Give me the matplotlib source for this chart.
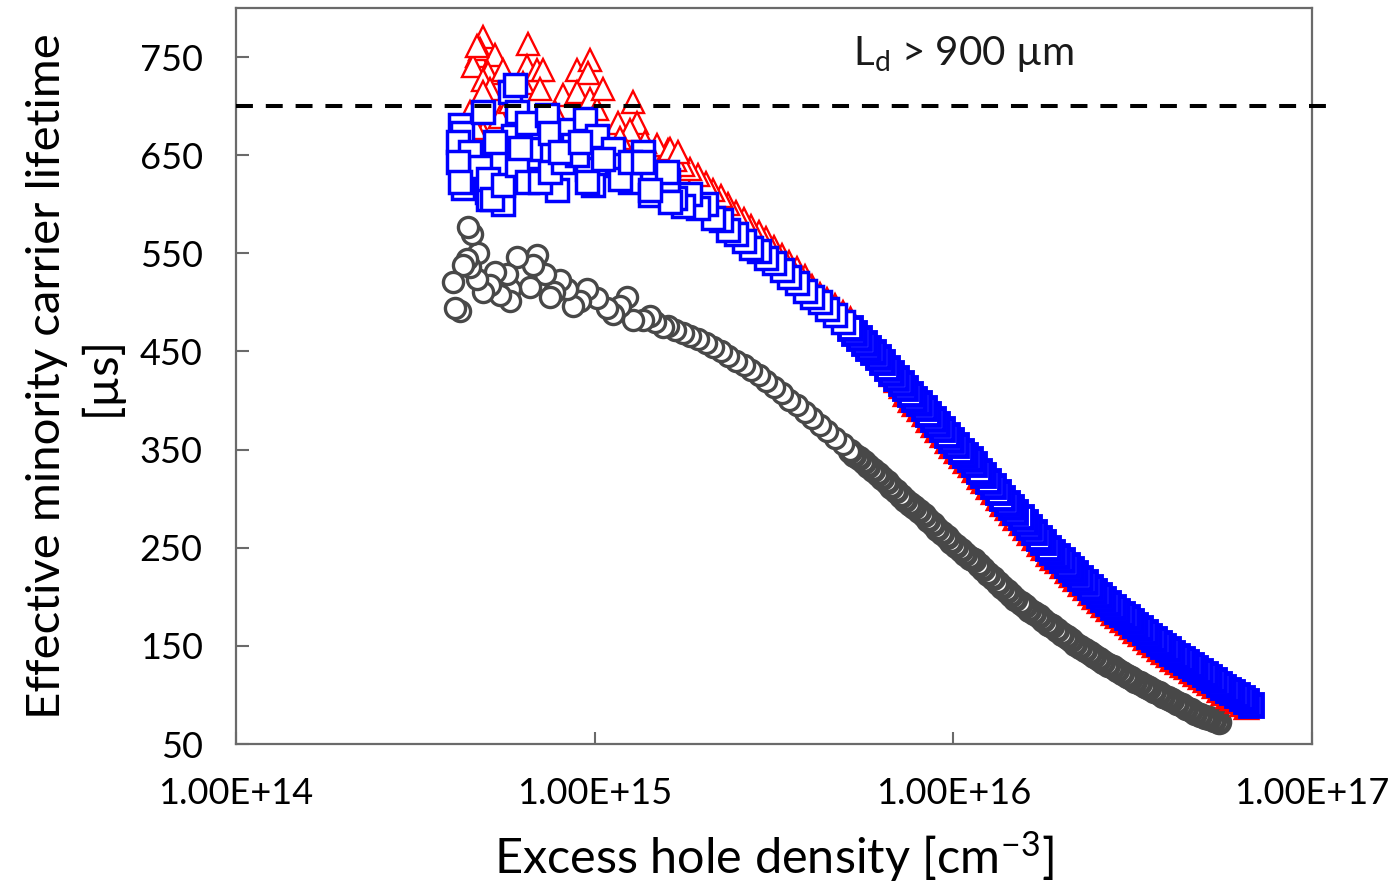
import matplotlib

matplotlib.use("Agg")
import matplotlib.pyplot as plt

plt.rcParams["font.family"] = ["Lato", "DejaVu Sans"]
plt.rcParams["mathtext.fontset"] = "custom"
plt.rcParams["mathtext.rm"] = "Lato"
plt.rcParams["mathtext.it"] = "Lato:italic"

# density grid of the smooth (high injection) part, cm^-3
n_grid = [
    1.60e15, 1.68e15, 1.76e15, 1.85e15, 1.94e15, 2.04e15, 2.14e15, 2.25e15,
    2.36e15, 2.48e15, 2.60e15, 2.73e15, 2.87e15, 3.01e15, 3.16e15, 3.32e15,
    3.49e15, 3.66e15, 3.85e15, 4.04e15, 4.24e15, 4.45e15, 4.67e15, 4.91e15,
    5.15e15, 5.30e15, 5.46e15, 5.63e15, 5.80e15, 5.97e15, 6.15e15, 6.33e15,
    6.52e15, 6.72e15, 6.92e15, 7.13e15, 7.34e15, 7.56e15, 7.79e15, 8.02e15,
    8.26e15, 8.51e15, 8.77e15, 9.03e15, 9.30e15, 9.58e15, 9.87e15,
    1.02e16, 1.05e16, 1.08e16, 1.11e16, 1.14e16, 1.18e16, 1.21e16, 1.25e16,
    1.29e16, 1.33e16, 1.37e16, 1.41e16, 1.45e16, 1.49e16, 1.54e16, 1.58e16,
    1.63e16, 1.68e16, 1.73e16, 1.78e16, 1.84e16, 1.89e16, 1.95e16, 2.01e16,
    2.07e16, 2.13e16, 2.19e16, 2.26e16, 2.33e16, 2.40e16, 2.47e16, 2.54e16,
    2.62e16, 2.70e16, 2.78e16, 2.86e16, 2.95e16, 3.04e16, 3.13e16, 3.22e16,
    3.32e16, 3.42e16, 3.52e16, 3.63e16, 3.74e16, 3.85e16, 3.96e16, 4.08e16,
    4.21e16, 4.33e16, 4.46e16, 4.60e16, 4.73e16, 4.88e16, 5.02e16, 5.17e16,
    5.33e16, 5.49e16, 5.65e16, 5.82e16, 6.00e16, 6.18e16, 6.36e16, 6.55e16,
    6.75e16,
]
N_SPARSE = 24  # first grid points, below ~5e15, where markers stay apart

# grey circles
gray_tau = [
    476, 472, 469, 466, 463, 459, 455, 450, 445, 440, 436, 431, 426, 420, 414,
    408, 401, 395, 388, 382, 375, 369, 362, 356,
    349, 345, 341, 337, 333, 329, 325, 321, 317, 312, 308, 303, 299, 295, 291,
    287, 283, 278, 274, 269, 265, 261, 256,
    252, 248, 244, 240, 237, 232, 228, 223, 219, 214, 210, 206, 202, 198, 194,
    191, 187, 183, 180, 176, 172, 170, 166, 162, 159, 156, 152, 149, 146, 143,
    140, 137, 134, 131, 128, 125, 122, 119, 117, 114, 112, 109, 107, 104, 102,
    99, 97, 95, 92, 90, 87, 85, 82, 80, 78, 76, 74, 72,
]
gray_noise_n = [
    4.03e14, 4.08e14, 4.21e14, 4.29e14, 4.40e14, 4.43e14, 4.49e14, 4.55e14,
    4.70e14, 4.73e14, 4.88e14, 5.11e14, 5.27e14, 5.45e14, 5.70e14, 5.81e14,
    5.81e14, 6.07e14, 6.60e14, 6.73e14, 6.90e14, 7.27e14, 7.50e14, 7.70e14,
    8.00e14, 8.37e14, 8.70e14, 9.10e14, 9.52e14, 1.015e15, 1.08e15, 1.125e15,
    1.18e15, 1.23e15, 1.28e15, 1.36e15, 1.43e15, 1.47e15, 1.55e15,
]
gray_noise_tau = [
    521, 494, 491, 538, 544, 577, 536, 570,
    524, 550, 511, 518, 531, 508, 529, 501,
    514, 546, 516, 538, 548, 529, 506, 511,
    523, 514, 496, 501, 514, 504, 494, 488,
    496, 506, 482, 482, 486, 480, 475,
]

# blue squares
blue_tau = [
    625, 606, 598, 610, 596, 600, 586, 584, 574, 570, 563, 555, 552, 545, 540,
    533, 526, 520, 512, 506, 500, 493, 487, 480,
    474, 469, 464, 459, 454, 449, 444, 439, 433, 428, 423, 418, 413, 407, 402,
    397, 392, 386, 381, 376, 371, 365, 360,
    355, 349, 344, 340, 335, 328, 324, 318, 313, 307, 301, 296, 291, 286, 281,
    276, 271, 266, 260, 256, 250, 246, 242, 237, 232, 228, 224, 219, 215, 210,
    206, 202, 198, 194, 190, 186, 182, 179, 175, 171, 168, 164, 160, 157, 153,
    150, 147, 143, 140, 137, 134, 130, 127, 124, 121, 118, 115, 111, 108, 105,
    103, 100, 97, 94, 90,
]
blue_noise_n = [
    4.21e14, 4.27e14, 4.29e14, 4.27e14, 4.29e14, 4.16e14, 4.49e14, 4.88e14,
    5.01e14, 5.04e14, 4.79e14, 5.55e14, 5.81e14, 5.99e14, 6.07e14, 5.92e14,
    6.48e14, 6.60e14, 7.04e14, 7.36e14, 7.50e14, 7.85e14, 8.53e14, 8.70e14,
    9.40e14, 9.52e14, 9.89e14, 1.015e15, 1.125e15, 1.153e15, 1.254e15,
    1.364e15, 1.426e15, 1.591e15, 1.622e15, 1.177e15, 4.16e14, 4.21e14,
    5.04e14, 5.17e14, 5.55e14, 6.07e14, 6.48e14, 7.04e14, 7.50e14, 8.16e14,
    9.52e14, 8.93e14, 1.254e15, 1.364e15, 1.426e15, 1.055e15, 5.27e14,
    6.19e14, 8.00e14, 9.10e14,
]
blue_noise_tau = [
    681, 673, 643, 630, 617, 663, 653, 694,
    612, 605, 638, 600, 714, 722, 694, 670,
    683, 656, 626, 691, 673, 615, 676, 660,
    687, 636, 620, 670, 656, 640, 623,
    653, 609, 633, 602, 626, 643, 623,
    626, 605, 620, 640, 623, 623, 633, 643,
    623, 650, 643, 643, 615, 646, 663,
    657, 653, 663,
]

# red triangles
red_tau = [
    655, 645, 640, 636, 630, 622, 615, 608, 600, 592, 585, 578, 572, 566, 556,
    548, 541, 535, 527, 517, 509, 503, 497, 490,
    483, 477, 470, 464, 458, 452, 446, 440, 433, 427, 421, 415, 407, 401, 396,
    391, 386, 380, 375, 370, 365, 359, 354,
    349, 343, 338, 334, 329, 322, 318, 312, 307, 301, 295, 290, 285, 280, 275,
    270, 265, 260, 254, 250, 244, 240, 236, 231, 226, 222, 218, 213, 209, 204,
    200, 196, 192, 188, 184, 180, 176, 173, 169, 165, 162, 158, 154, 151, 147,
    144, 141, 137, 134, 131, 128, 124, 121, 118, 115, 112, 109, 105, 102, 99,
    97, 94, 91, 88,
]
red_noise_n = [
    4.88e14, 4.70e14, 4.79e14, 5.27e14, 4.58e14, 5.04e14, 4.88e14, 5.55e14,
    5.11e14, 4.88e14, 6.52e14, 6.48e14, 6.91e14, 7.18e14, 6.31e14, 7.04e14,
    8.16e14, 8.93e14, 9.70e14, 9.58e14, 8.93e14, 9.70e14, 1.015e15, 1.055e15,
    1.161e15, 1.279e15, 1.312e15, 1.254e15, 1.492e15, 1.622e15, 1.707e15,
    4.88e14, 4.49e14, 4.64e14, 5.45e14, 5.81e14, 7.75e14, 1.177e15,
    1.381e15, 4.70e14,
]
red_noise_tau = [
    770, 751, 758, 752, 741, 734, 727, 737,
    717, 714, 763, 741, 737, 737, 724, 717,
    711, 737, 747, 734, 714, 707, 697, 717,
    683, 704, 683, 676, 660, 656, 653,
    673, 694, 678, 689, 704, 694, 668,
    663, 761,
]

LD_LIMIT = 700  # lifetime for L_d = 900 um


def scatter_series(ax, n_dense, t_dense, n_sparse, t_sparse, style, dense_mew):
    # dense high-injection tail first, then the sparse / noisy low end on top
    ax.plot(n_dense, t_dense, ls="none", **dict(style, mew=dense_mew))
    ax.plot(n_sparse, t_sparse, ls="none", **style)


def main():
    fig = plt.figure(figsize=(13.98, 8.91), dpi=100)
    ax = fig.add_axes([236 / 1398, 1 - 744 / 891, 1076 / 1398, 736 / 891])

    gray_style = dict(marker="o", ms=14.5, mfc="white", mec="#484848", mew=2.4,
                      zorder=2)
    k = len(gray_tau)
    scatter_series(ax, n_grid[N_SPARSE:k][::-1], gray_tau[N_SPARSE:][::-1],
                   n_grid[:N_SPARSE][::-1] + gray_noise_n[::-1],
                   gray_tau[:N_SPARSE][::-1] + gray_noise_tau[::-1],
                   gray_style, 3.9)

    red_style = dict(marker="^", ms=16.5, mfc="white", mec="#ff0000", mew=1.7,
                     zorder=3)
    k = len(red_tau)
    scatter_series(ax, n_grid[N_SPARSE:k][::-1], red_tau[N_SPARSE:][::-1],
                   n_grid[:N_SPARSE][::-1] + red_noise_n,
                   red_tau[:N_SPARSE][::-1] + red_noise_tau, red_style, 2.4)

    blue_style = dict(marker="s", ms=16, mfc="white", mec="#0000ff", mew=2.5,
                      zorder=4)
    k = len(blue_tau)
    scatter_series(ax, n_grid[N_SPARSE:k][::-1], blue_tau[N_SPARSE:][::-1],
                   n_grid[:N_SPARSE][::-1] + blue_noise_n,
                   blue_tau[:N_SPARSE][::-1] + blue_noise_tau, blue_style, 3.5)

    ax.plot([1e14, 1.107e17], [LD_LIMIT, LD_LIMIT], color="black", lw=2.9,
            ls=(0, (4.2, 3.2)), clip_on=False, zorder=5)
    ax.text(1.065e16, 753, "L$_\\mathrm{d}$ > 900 µm", fontsize=29,
            ha="center", va="center", color="#1a1a1a")

    ax.set_xscale("log")
    ax.set_xlim(1e14, 1e17)
    ax.set_ylim(50, 800)
    ax.set_xticks([1e14, 1e15, 1e16, 1e17])
    ax.set_xticklabels(["1.00E+14", "1.00E+15", "1.00E+16", "1.00E+17"])
    ax.set_yticks([50, 150, 250, 350, 450, 550, 650, 750])
    ax.minorticks_off()
    ax.tick_params(direction="in", length=9, width=1.5, color="#6a6a6a",
                   labelsize=26, pad=24)
    for sp in ax.spines.values():
        sp.set_color("#6a6a6a")
        sp.set_linewidth(1.6)

    ax.set_xlabel("Excess hole density [cm$^{-3}$]", fontsize=35)
    ax.xaxis.set_label_coords(0.5, -0.115)
    ax.set_ylabel("Effective minority carrier lifetime\n[µs]", fontsize=34,
                  linespacing=1.3)
    ax.yaxis.set_label_coords(-0.105, 0.5)

    fig.savefig("out.png", dpi=100)
    plt.close(fig)


if __name__ == "__main__":
    main()
